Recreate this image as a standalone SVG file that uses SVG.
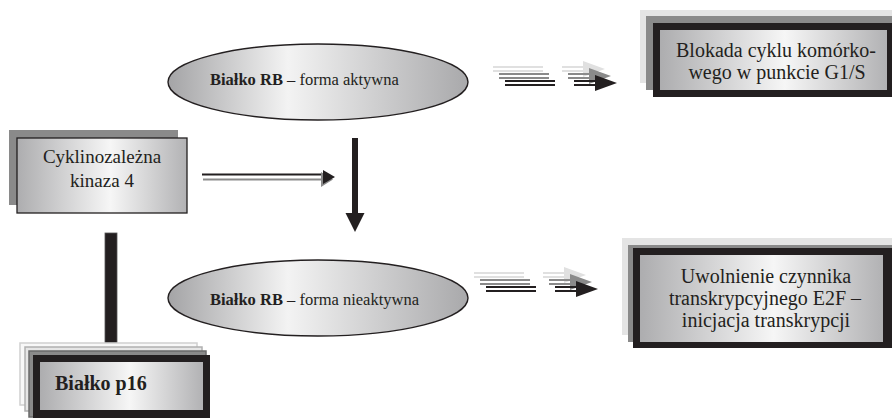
<svg xmlns="http://www.w3.org/2000/svg" xmlns:xlink="http://www.w3.org/1999/xlink" width="892" height="418" viewBox="0 0 892 418">
<style>
  .t { font-family: "Liberation Serif", "Times New Roman", serif; fill: #231f20; }
  .c { text-anchor: middle; }
  .b { font-weight: bold; }
  .frame { fill: #231f20; }
  .lite { fill: #e4e4e4; }
  .mid { fill: #8a8a8a; }
  .ell { fill: url(#ellg); stroke: #231f20; stroke-width: 1.4; }
</style>
<defs>
  <linearGradient id="silver" x1="0" y1="0" x2="1" y2="0">
    <stop offset="0" stop-color="#adadaf"/>
    <stop offset="0.55" stop-color="#f6f6f6"/>
    <stop offset="1" stop-color="#b2b2b4"/>
  </linearGradient>
  <linearGradient id="ellg" x1="0" y1="0" x2="1" y2="0">
    <stop offset="0" stop-color="#a4a4a6"/>
    <stop offset="0.4" stop-color="#f3f3f3"/>
    <stop offset="1" stop-color="#a9a9ab"/>
  </linearGradient>
  <g id="tri" stroke="currentColor" fill="currentColor" stroke-width="2">
    <line x1="0" y1="0" x2="50" y2="0"/>
    <line x1="0" y1="4" x2="50" y2="4"/>
    <line x1="69" y1="0" x2="97" y2="0"/>
    <line x1="69" y1="4" x2="97" y2="4"/>
    <polygon points="90,-6 112,2 90,10" stroke="none"/>
  </g>
</defs>

<g id="connectors">
  <g id="arrow-top">
    <use xlink:href="#tri" x="493" y="67" style="color:#e0e0e0"/>
    <use xlink:href="#tri" x="499" y="74" style="color:#8a8a8a"/>
    <use xlink:href="#tri" x="505" y="81" style="color:#231f20"/>
  </g>
  <g id="arrow-bottom">
    <use xlink:href="#tri" x="474" y="273" style="color:#e0e0e0"/>
    <use xlink:href="#tri" x="480" y="280" style="color:#8a8a8a"/>
    <use xlink:href="#tri" x="486" y="287" style="color:#231f20"/>
  </g>
  <g id="arrow-cdk4">
    <line x1="203" y1="179.5" x2="328" y2="179.5" stroke="#8a8a8a" stroke-width="1.8"/>
    <line x1="202" y1="174.5" x2="326" y2="174.5" stroke="#231f20" stroke-width="1.8"/>
    <polygon points="321,172 333,179.5 321,187" fill="#8a8a8a"/>
    <polygon points="323,170 335,177 323,184" fill="#231f20"/>
  </g>
  <g id="arrow-vertical">
    <rect x="352" y="138" width="6" height="77" fill="#231f20"/>
    <polygon points="345.5,213 364.5,213 355,232" fill="#231f20"/>
  </g>
  <g id="bar-p16">
    <rect x="105" y="233" width="12" height="110" fill="#231f20" stroke="#555" stroke-width="0.8"/>
    <rect x="105" y="345" width="12" height="2.5" fill="#231f20"/>
  </g>
</g>

<g id="n-blokada">
  <rect class="lite" x="640" y="10" width="252" height="73"/>
  <rect class="mid" x="646" y="16" width="246" height="74"/>
  <rect class="frame" x="653" y="23" width="245" height="74"/>
  <rect x="660" y="30" width="227" height="60" fill="url(#silver)"/>
  <text class="t c" x="776" y="57" font-size="20">Blokada cyklu komórko-</text>
  <text class="t c" x="777" y="79" font-size="20">wego w punkcie G1/S</text>
</g>

<g id="n-rb-active">
  <ellipse class="ell" cx="318" cy="82" rx="150" ry="38"/>
  <text class="t" x="210" y="85" font-size="16.5"><tspan class="b">Białko RB</tspan> – forma aktywna</text>
</g>

<g id="n-cdk4">
  <rect class="mid" x="9" y="130" width="169" height="75"/>
  <rect x="17" y="138" width="170" height="75" fill="url(#silver)" stroke="#231f20" stroke-width="1.3"/>
  <text class="t c" x="102" y="163" font-size="19">Cyklinozależna</text>
  <text class="t c" x="102" y="187" font-size="19">kinaza 4</text>
</g>

<g id="n-rb-inactive">
  <ellipse class="ell" cx="318" cy="298" rx="150" ry="38"/>
  <text class="t" x="210" y="305" font-size="16.5"><tspan class="b">Białko RB</tspan> – forma nieaktywna</text>
</g>

<g id="n-e2f">
  <rect class="lite" x="622" y="238" width="270" height="97"/>
  <rect class="mid" x="628" y="245" width="264" height="97"/>
  <rect class="frame" x="633" y="248" width="262" height="100"/>
  <rect x="640" y="255" width="243" height="87" fill="url(#silver)"/>
  <text class="t c" x="766" y="283" font-size="20">Uwolnienie czynnika</text>
  <text class="t c" x="765" y="305" font-size="20">transkrypcyjnego E2F –</text>
  <text class="t c" x="766" y="327" font-size="20">inicjacja transkrypcji</text>
</g>

<g id="n-p16">
  <rect x="20" y="343" width="177" height="62" fill="#f8f8f8" stroke="#d0d0d0" stroke-width="1.5"/>
  <rect x="25" y="347" width="177" height="64" fill="#e6e6e6" stroke="#b0b0b0" stroke-width="1.5"/>
  <rect x="29" y="351" width="177" height="66" fill="#8a8a8a" stroke="#6a6a6a" stroke-width="1.5"/>
  <rect class="frame" x="33" y="355" width="177" height="63"/>
  <rect x="40" y="362" width="163" height="48" fill="url(#silver)"/>
  <text class="t b" x="55" y="390" font-size="20">Białko p16</text>
</g>
</svg>
